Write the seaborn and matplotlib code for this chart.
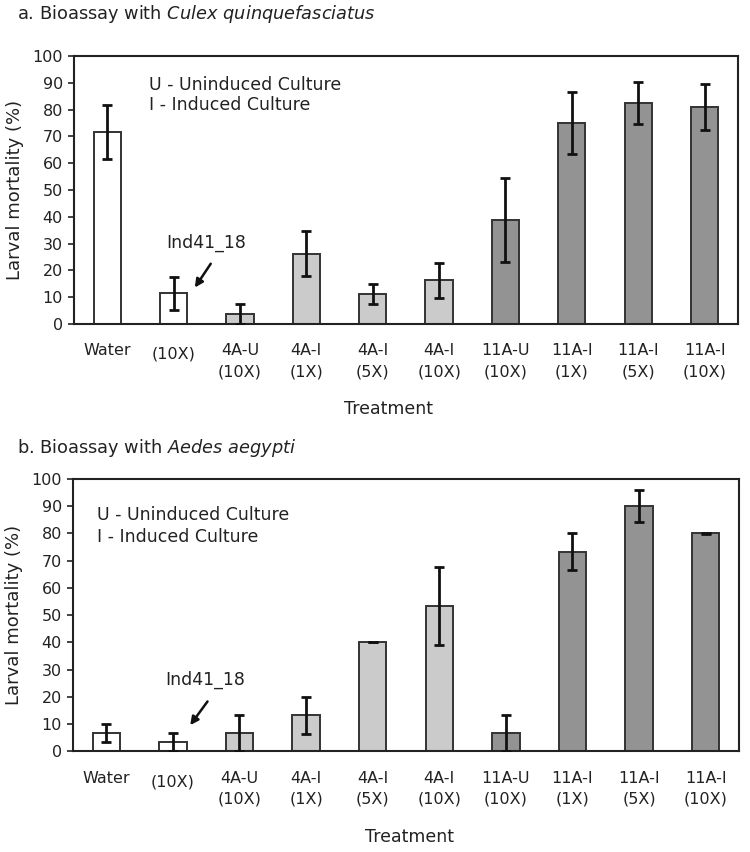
import matplotlib
matplotlib.use("Agg")
import matplotlib.pyplot as plt
import seaborn as sns
import pandas as pd
from matplotlib.transforms import ScaledTranslation

categories = ["Water", "(10X)", "4A-U\n(10X)", "4A-I\n(1X)", "4A-I\n(5X)", "4A-I\n(10X)",
              "11A-U\n(10X)", "11A-I\n(1X)", "11A-I\n(5X)", "11A-I\n(10X)"]
groups = ["control", "control", "4A", "4A", "4A", "4A", "11A", "11A", "11A", "11A"]

culex_mean = [71.7, 11.4, 3.8, 26.3, 11.3, 16.3, 38.8, 75.0, 82.5, 81.0]
culex_err = [10.0, 6.2, 3.8, 8.5, 3.7, 6.5, 15.5, 11.7, 7.9, 8.5]

aedes_mean = [6.7, 3.3, 6.7, 13.3, 40.0, 53.3, 6.7, 73.3, 90.0, 80.0]
aedes_err = [3.3, 3.3, 6.7, 6.8, 0.0, 14.4, 6.7, 6.7, 5.8, 0.3]

group_colors = {"control": "#ffffff", "4A": "#cbcbcb", "11A": "#939393"}

sns.set_theme(style="white")
plt.rcParams["font.family"] = ["DejaVu Sans"]
plt.rcParams["mathtext.fontset"] = "dejavusans"

fig = plt.figure(figsize=(7.5, 8.52), dpi=100)
ax_a = fig.add_axes([0.0987, 0.6197, 0.885, 0.3146])
ax_b = fig.add_axes([0.0973, 0.1182, 0.888, 0.3196])

TXT = "#222222"


def draw(ax, means, errs, notes, xlab_pos):
    df = pd.DataFrame({"Treatment": categories, "value": means, "group": groups})
    sns.barplot(data=df, x="Treatment", y="value", hue="group", palette=group_colors,
                dodge=False, legend=False, width=0.41, edgecolor="#333333",
                linewidth=1.4, ax=ax, errorbar=None)
    ax.errorbar(range(len(categories)), means, yerr=errs, fmt="none", ecolor="#111111",
                elinewidth=2.0, capsize=3.5, capthick=2.0, zorder=5)
    ax.set_ylim(0, 100)
    ax.set_xlim(-0.5, len(categories) - 0.5)
    ax.set_yticks(range(0, 101, 10))
    ax.tick_params(axis="y", which="major", left=True, length=4, width=1.2,
                   color="#222222", labelsize=11.5, labelcolor=TXT, pad=4)
    ax.tick_params(axis="x", bottom=False, labelsize=11.5, labelcolor=TXT, pad=8)
    for s in ax.spines.values():
        s.set_visible(True)
        s.set_color("#222222")
        s.set_linewidth(1.5)
    ax.set_ylabel("Larval mortality (%)", fontsize=13, color=TXT, labelpad=6)
    ax.set_xlabel("Treatment", fontsize=12.5, color=TXT)
    ax.xaxis.set_label_coords(*xlab_pos)
    for lbl in ax.get_xticklabels():
        lbl.set_linespacing(1.5)
    # shift the single-line "(10X)" label slightly down
    lbl = ax.get_xticklabels()[1]
    lbl.set_transform(lbl.get_transform() + ScaledTranslation(0, -2.5 / 72, fig.dpi_scale_trans))
    (ux, uy), (ix, iy), (tx, ty), (a0, a1) = notes
    ax.text(ux, uy, "U - Uninduced Culture", fontsize=12.5, color=TXT, va="center", ha="left")
    ax.text(ix, iy, "I - Induced Culture", fontsize=12.5, color=TXT, va="center", ha="left")
    ax.text(tx, ty, "Ind41_18", fontsize=12.5, color=TXT, va="center", ha="center")
    ax.annotate("", xy=a1, xytext=a0,
                arrowprops=dict(arrowstyle="-|>", color="#111111", lw=1.8,
                                mutation_scale=12, shrinkA=0, shrinkB=0))


draw(ax_a, culex_mean, culex_err,
     [(0.63, 89.2), (0.63, 81.7), (1.49, 30.2), ((1.56, 22.5), (1.32, 13.6))],
     (0.474, -0.285))
draw(ax_b, aedes_mean, aedes_err,
     [(-0.14, 86.9), (-0.14, 78.8), (1.48, 26.2), ((1.52, 18.3), (1.26, 9.6))],
     (0.505, -0.28))

fig.text(0.0227, 0.9836, r"a. Bioassay with $\it{Culex\ quinquefasciatus}$",
         fontsize=12.8, color=TXT, va="center", ha="left")
fig.text(0.0227, 0.474, r"b. Bioassay with $\it{Aedes\ aegypti}$",
         fontsize=12.8, color=TXT, va="center", ha="left")

fig.savefig("out.png", dpi=100, facecolor="white")
